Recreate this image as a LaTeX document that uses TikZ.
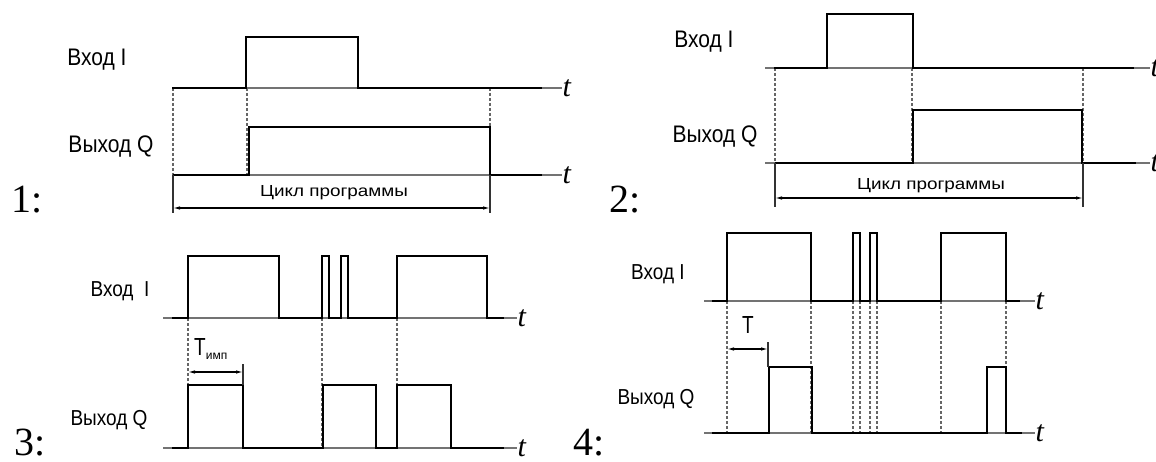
\documentclass[tikz,border=0pt]{standalone}
\usepackage{fontspec}
\setmainfont{Liberation Serif}
\setsansfont{Liberation Sans}
\usetikzlibrary{arrows.meta, positioning}
\newcommand{\tallbox}[1]{\scalebox{1}[1.14]{#1}}
\newcommand{\widebox}[1]{\scalebox{1.18}[1]{#1}}

\begin{document}
\begin{tikzpicture}[x=1pt, y=-1pt,
  axis/.style={draw=black!55, line width=1.4pt},
  sig/.style={draw=black, line width=2.9pt, line join=miter},
  guide/.style={draw=black!60, line width=1.1pt, dash pattern=on 3pt off 2pt},
  bound/.style={draw=black!80, line width=1.3pt},
  dim/.style={{Latex[length=7pt,width=3.5pt]}-{Latex[length=7pt,width=3.5pt]}, line width=1.1pt},
  lab/.style={font=\sffamily\fontsize{21}{21}\selectfont, inner sep=0pt},
  labs/.style={font=\sffamily\fontsize{19}{19}\selectfont, inner sep=0pt},
  cyc/.style={font=\sffamily\fontsize{16}{16}\selectfont, inner sep=0pt},
  tlab/.style={font=\itshape\fontsize{30}{30}\selectfont, inner sep=0pt, anchor=west},
  num/.style={font=\fontsize{40}{40}\selectfont, inner sep=0pt, anchor=base west},
]
  \useasboundingbox (0,0) rectangle (1156,462);

  % --- 1: input and output with program cycle
  \node[lab] (in1) at (97,60) {\tallbox{Вход I}};
  \node[lab] (out1) at (111,147) {\tallbox{Выход Q}};
  \node[num] (n1) at (11,213) {1:};
  \draw[axis] (172,88) -- (562,88) node[tlab] (t1a) {t};
  \draw[axis] (172,175) -- (562,175) node[tlab] (t1b) {t};
  \draw[guide] (173,88) -- (173,175);
  \draw[guide] (247,88) -- (247,175);
  \draw[guide] (490,88) -- (490,175);
  \draw[sig] (172,88) -- (246,88) -- (246,37) -- (358,37) -- (358,88) -- (542,88);
  \draw[sig] (173,175) -- (249,175) -- (249,127) -- (490,127) -- (490,175) -- (542,175);
  \coordinate (c1a) at (173,208);
  \coordinate (c1b) at (490,208);
  \draw[bound] (173,175) -- (173,213);
  \draw[bound] (490,175) -- (490,213);
  \draw[dim] (c1a) -- (c1b);
  \node[cyc] (cyc1) at (334,193) {\widebox{Цикл программы}};

  % --- 2: output after input falls
  \node[lab] (in2) at (704,42) {\tallbox{Вход I}};
  \node[lab] (out2) at (715,137) {\tallbox{Выход Q}};
  \node[num] (n2) at (609,213) {2:};
  \draw[axis] (765,68) -- (1150,68) node[tlab] (t2a) {t};
  \draw[axis] (765,163) -- (1150,163) node[tlab] (t2b) {t};
  \draw[guide] (775,68) -- (775,163);
  \draw[guide] (912,68) -- (912,163);
  \draw[guide] (1083,68) -- (1083,163);
  \draw[sig] (774,68) -- (827,68) -- (827,14) -- (913,14) -- (913,68) -- (1134,68);
  \draw[sig] (775,163) -- (913,163) -- (913,110) -- (1082,110) -- (1082,163) -- (1136,163);
  \coordinate (c2a) at (775,198);
  \coordinate (c2b) at (1083,198);
  \draw[bound] (775,163) -- (775,207);
  \draw[bound] (1083,163) -- (1083,207);
  \draw[dim] (c2a) -- (c2b);
  \node[cyc] (cyc2) at (931,186) {\widebox{Цикл программы}};

  % --- 3: pulse of fixed length
  \node[labs] (in3) at (120,291) {\tallbox{Вход\ \ I}};
  \node[labs] (out3) at (109,420) {\tallbox{Выход Q}};
  \node[num] (n3) at (14,455) {3:};
  \draw[axis] (163,318) -- (517,318) node[tlab] (t3a) {t};
  \draw[axis] (163,448) -- (517,448) node[tlab] (t3b) {t};
  \draw[guide] (188,318) -- (188,448);
  \draw[guide] (322,318) -- (322,448);
  \draw[guide] (397,318) -- (397,448);
  \draw[sig] (172,318) -- (188,318) -- (188,256) -- (279,256) -- (279,318)
    -- (322,318) -- (322,256) -- (329,256) -- (329,318)
    -- (341,318) -- (341,256) -- (348,256) -- (348,318)
    -- (397,318) -- (397,256) -- (487,256) -- (487,318) -- (504,318);
  \draw[sig] (172,448) -- (188,448) -- (188,385) -- (243,385) -- (243,448)
    -- (323,448) -- (323,385) -- (376,385) -- (376,448)
    -- (397,448) -- (397,385) -- (451,385) -- (451,448) -- (504,448);
  \coordinate (c3a) at (188,372);
  \coordinate (c3b) at (243,372);
  \draw[bound] (243,364) -- (243,385);
  \draw[dim] (c3a) -- (c3b);
  \node[labs, anchor=west] (tp3) at (194,349) {\scalebox{1}[1.3]{T}\raisebox{-0.35ex}{\fontsize{12}{12}\selectfont имп}};

  % --- 4: delayed output
  \node[labs] (in4) at (658,274) {\tallbox{Вход\ I}};
  \node[labs] (out4) at (656,399) {\tallbox{Выход Q}};
  \node[num] (n4) at (573,455) {4:};
  \draw[axis] (704,301) -- (1035,301) node[tlab] (t4a) {t};
  \draw[axis] (704,433) -- (1035,433) node[tlab] (t4b) {t};
  \draw[guide] (727,301) -- (727,433);
  \draw[guide] (811,301) -- (811,433);
  \draw[guide] (853,301) -- (853,433);
  \draw[guide] (860,301) -- (860,433);
  \draw[guide] (870,301) -- (870,433);
  \draw[guide] (877,301) -- (877,433);
  \draw[guide] (941,301) -- (941,433);
  \draw[guide] (1006,301) -- (1006,433);
  \draw[sig] (712,301) -- (727,301) -- (727,233) -- (811,233) -- (811,301)
    -- (853,301) -- (853,233) -- (860,233) -- (860,301)
    -- (870,301) -- (870,233) -- (877,233) -- (877,301)
    -- (941,301) -- (941,233) -- (1006,233) -- (1006,301) -- (1020,301);
  \draw[sig] (712,433) -- (769,433) -- (769,367) -- (812,367) -- (812,433)
    -- (987,433) -- (987,367) -- (1006,367) -- (1006,433) -- (1022,433);
  \coordinate (c4a) at (727,349);
  \coordinate (c4b) at (768,349);
  \draw[bound] (768,342) -- (768,367);
  \draw[dim] (c4a) -- (c4b);
  \node[labs] (tp4) at (748,325) {\scalebox{1}[1.3]{T}};
\end{tikzpicture}
\end{document}
